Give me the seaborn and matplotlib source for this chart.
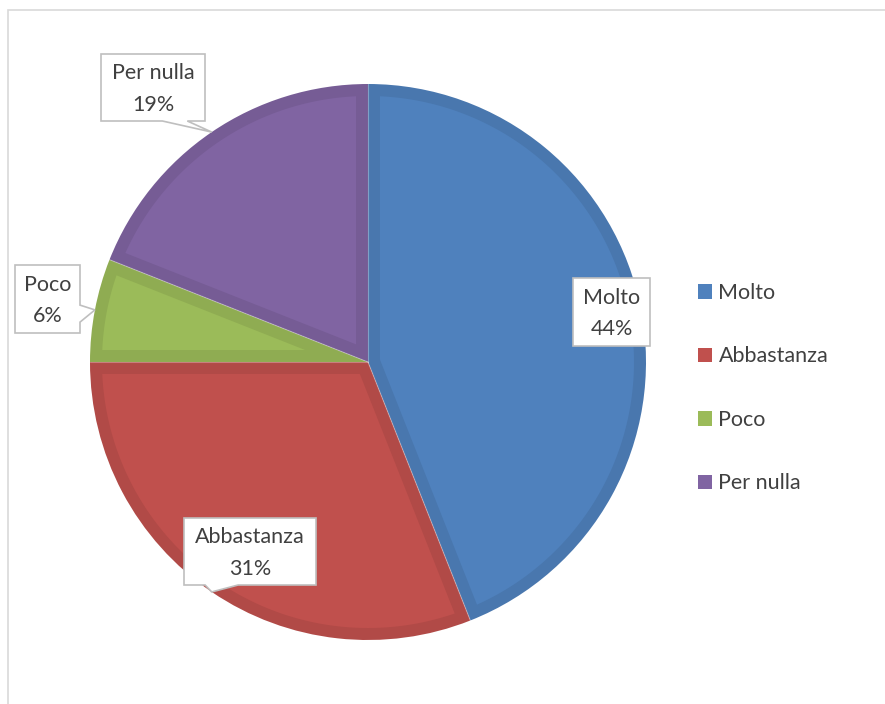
import numpy as np
import matplotlib
matplotlib.use("Agg")
import matplotlib.pyplot as plt
import seaborn as sns
from matplotlib.patches import Polygon, Rectangle, Patch

categories = ["Molto", "Abbastanza", "Poco", "Per nulla"]
percent = [44, 31, 6, 19]
colors = ["#4F81BD", "#C0504D", "#9BBB59", "#8064A2"]

sns.set_theme(style="white")
plt.rcParams["font.family"] = ["Lato", "DejaVu Sans"]
TEXT = "#404040"
FS = 15.5

W, H = 885, 704
fig = plt.figure(figsize=(W / 100, H / 100), dpi=100)
ax = fig.add_axes([0, 0, 1, 1])

# pie of radius 1 at the origin; 1 data unit = R pixels
R = 278.0
cx_px, cy_px = 368.0, 362.0


def darker(c, f=0.9):
    r, g, b = matplotlib.colors.to_rgb(c)
    return (r * f, g * f, b * f)


# slices drawn in the darker rim colour; a lighter inset face goes on top
wedges, _ = ax.pie(percent, colors=[darker(c, 0.92) for c in colors],
                   startangle=90, counterclock=False, radius=1, center=(0, 0),
                   wedgeprops=dict(linewidth=0))

RIM = 12.0 / R
for w, c in zip(wedges, colors):
    t1, t2 = np.deg2rad(w.theta1), np.deg2rad(w.theta2)
    span = t2 - t1
    mid = (t1 + t2) / 2
    apex_d = RIM / np.sin(span / 2)
    apex = (apex_d * np.cos(mid), apex_d * np.sin(mid))
    phi = np.arcsin(RIM / (1 - RIM))
    ang = np.linspace(t1 + phi, t2 - phi, 200)
    arc = np.column_stack([(1 - RIM) * np.cos(ang), (1 - RIM) * np.sin(ang)])
    verts = np.vstack([apex, arc])
    ax.add_patch(Polygon(verts, closed=True, facecolor=c, edgecolor="none", zorder=2))
    # faint light seam along the slice boundary
    ax.plot([0, np.cos(t1)], [0, np.sin(t1)], color=(1, 1, 1, 0.3), lw=0.8, zorder=3)

ax.set_aspect("auto")
ax.set_xlim(-cx_px / R, (W - cx_px) / R)
ax.set_ylim(-(H - cy_px) / R, cy_px / R)
ax.axis("off")


def px(x, y):
    return ((x - cx_px) / R, (cy_px - y) / R)


# callout boxes: (left, top, right, bottom) in pixels, tail side, base fractions
callouts = {
    "Molto": ((573, 278, 650, 346), None, None),
    "Abbastanza": ((184, 518, 316, 585), "bottom", (0.16, 0.41)),
    "Poco": ((15, 265, 80, 333), "right", (0.59, 0.84)),
    "Per nulla": ((101, 54, 205, 121), "bottom", (0.59, 0.83)),
}

for cat, p, w in zip(categories, percent, wedges):
    theta = np.deg2rad((w.theta1 + w.theta2) / 2)
    tip = (np.cos(theta), np.sin(theta))
    (l, t, r, b), side, frac = callouts[cat]
    x0, y0 = px(l, b)
    x1, y1 = px(r, t)
    if side == "bottom":
        bx0 = x0 + frac[0] * (x1 - x0)
        bx1 = x0 + frac[1] * (x1 - x0)
        verts = [(x0, y1), (x1, y1), (x1, y0), (bx1, y0), tip, (bx0, y0), (x0, y0)]
    elif side == "right":
        by0 = y1 - frac[0] * (y1 - y0)
        by1 = y1 - frac[1] * (y1 - y0)
        verts = [(x0, y1), (x1, y1), (x1, by0), tip, (x1, by1), (x1, y0), (x0, y0)]
    else:
        verts = [(x0, y1), (x1, y1), (x1, y0), (x0, y0)]
    ax.add_patch(Polygon(verts, closed=True, facecolor="white", edgecolor="#BFBFBF",
                         linewidth=1.2, zorder=5, clip_on=False))
    ax.text((x0 + x1) / 2, (y0 + y1) / 2 - 1.5 / R, f"{cat}\n{p}%", ha="center",
            va="center", fontsize=FS, color=TEXT, linespacing=1.7, zorder=6)

handles = [Patch(facecolor=c, edgecolor="none") for c in colors]
leg = fig.legend(handles, categories, loc="upper left",
                 bbox_to_anchor=(698 / W, 1 - 283 / H), frameon=False,
                 fontsize=FS, labelcolor=TEXT, handlelength=0.65, handleheight=0.65,
                 handletextpad=0.3, labelspacing=2.02, borderaxespad=0, borderpad=0)

# outer chart-area border
fig.add_artist(Rectangle((8 / W, -0.1), 1.2, (H - 10) / H + 0.1, transform=fig.transFigure,
                         facecolor="none", edgecolor="#D9D9D9", linewidth=1.2))

fig.savefig("out.png", dpi=100, facecolor="white")
